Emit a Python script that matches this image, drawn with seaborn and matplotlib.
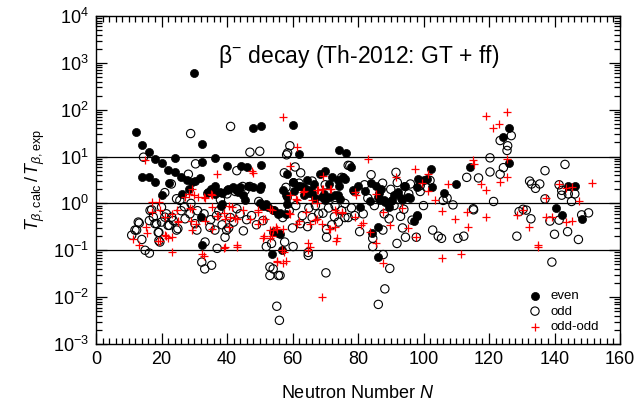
import numpy as np
import pandas as pd
import matplotlib
matplotlib.use("Agg")
import matplotlib.pyplot as plt
import matplotlib.ticker as mticker
import seaborn as sns

# ========================= Data =========================
even_n = [12.2, 14.1, 16.2, 18, 20, 24.2, 22, 14, 16.3, 18.1, 24, 25.9, 27.7, 30.2, 22.2,
          30, 32.3, 32.3, 36.2, 40.1, 44.2, 47.8, 50.3, 50.3, 46, 58.2, 31.8, 20, 26.2, 33.8,
          36.2, 38.4, 39.9, 41.9, 43.5, 45, 48, 50.3, 50, 52, 54.1, 56.2, 38.4, 32.3, 56.2,
          53.6, 56.7, 58.2, 29.2, 34.3, 36.3, 37.9, 40.4, 42.4, 44, 38.2, 32, 46.5, 50, 60.3,
          61.8, 63.3, 58.2, 51, 52.6, 54.4, 55.7, 54.1, 55.7, 60, 62, 74.3, 76.3, 78, 60.2,
          62.3, 64, 65, 68.4, 70, 72, 74.3, 75.5, 58, 60.5, 63.6, 66, 67, 69, 71.6, 74, 80,
          84, 85.5, 86.5, 80.6, 83.6, 86, 88, 89.5, 90, 92.3, 94, 95.4, 96, 98, 97, 98, 100,
          102.2, 102.5, 110, 114.2, 84.2, 86, 124.2, 126.2, 126.2, 140.5, 142.2, 144.2, 146.2,
          148.3, 58, 64.3, 74, 76, 70, 73, 74.6, 66.5, 71, 94.4, 98.4, 86.7, 88.2, 90.3, 93.3,
          97.9, 86.2, 106.4, 101, 28.5, 35, 45.5, 57, 65.5, 69.5, 78.5, 82, 87, 91, 93]
even_val = [34, 18, 12.4, 8.7, 7.2, 9.4, 5.2, 3.6, 3.6, 2.9, 4.6, 3.6, 3.1, 3.0, 2.7,
            610, 18.8, 7.6, 9.4, 6.2, 6.2, 40, 44, 6.5, 5.9, 4.3, 3.5, 1.5, 1.6, 1.66,
            2.4, 1.66, 1.96, 2.2, 1.74, 1.5, 2.2, 2.3, 1.0, 0.95, 0.71, 0.61, 0.95, 0.127, 0.225,
            0.085, 0.1, 0.95, 2.85, 1.74, 1.6, 1.74, 2.06, 2.06, 2.2, 0.9, 0.51, 2.3, 2.06, 2.85,
            2.4, 2.2, 1.36, 0.9, 0.83, 0.71, 0.6, 0.24, 0.23, 48, 11.5, 13.5, 11.8, 5.9, 2.8,
            2.3, 2.0, 1.7, 4.3, 5.0, 3.6, 2.3, 3.6, 1.5, 1.8, 1.5, 1.7, 1.3, 1.4, 1.35, 1.5, 2.4,
            2.7, 2.3, 1.7, 0.85, 1.1, 1.4, 1.2, 0.85, 1.1, 1.74, 2.3, 1.4, 1.3, 0.58, 0.43, 2.2, 3.2,
            5.5, 2.2, 2.6, 5.9, 0.23, 0.072, 26, 40, 7.2, 0.8, 0.56, 2.4, 2.4,
            0.47, 0.6, 3.1, 3.1, 3.3, 1.16, 1.48, 1.26, 2.6, 2.6, 2.4, 3.4, 1.16, 1.07, 1.16, 1.2,
            0.55, 0.31, 1.66, 3.4, 2.0, 2.0, 1.2, 1.9, 1.9, 1.6, 1.9, 1.8, 2.0, 1.5, 1.3]

odd_n = [10.9, 12.4, 13.2, 14, 15, 16.3, 14.5, 16.3, 17, 18, 19.2, 19.2, 20, 21.5, 22.4,
         23.1, 24.6, 25.6, 27.2, 28.2, 28.9, 28.7, 30.2, 30.4, 30.8, 32.3, 33.2, 35.3, 33.3,
         34.8, 36.3, 37, 36.8, 39.4, 39.9, 40.5, 41.1, 43, 45, 47, 50, 49.7, 51, 52, 53.1, 55.2,
         56, 56.2, 53.6, 43, 44.8, 47, 21, 23, 12.9, 11.9, 16.5, 17.5, 18.5, 21, 22, 23.6, 25,
         19, 19.5, 20, 24.6, 59.2, 58.5, 60.8, 62.5, 57.5, 70.4, 70.2, 75, 77, 77.5, 84, 91.6,
         87.5, 90, 95.5, 99, 102, 101, 106, 107.2, 109, 113.2, 115.3, 102.8, 104.5, 105.5, 110.5,
         112.3, 91.9, 94.5, 97.8, 87.7, 89.7, 88.2, 86.2, 84.5, 84.5, 80.5, 81.6, 79, 77, 72.8,
         70.4, 69.3, 66, 64.6, 64.8, 64.8, 60.2, 57.6, 60, 62.4, 87.6, 89.5, 93.6, 96.5, 93,
         115.2, 116.8, 120.3, 120.3, 121.4, 123.4, 124.4, 123.4, 125.7, 125.5, 126.8, 128.5,
         129.2, 130.4, 131.4, 132.4, 133, 134.2, 135.5, 132.8, 137.1, 137.1, 138.6, 139.2, 140,
         141.4, 141.4, 142.2, 142.2, 143.2, 144, 144.2, 145.2, 146.2, 147.3, 148.3, 150.4, 53.1,
         55.7, 54.1, 58.2, 33, 35, 37.5, 38.5, 41, 42, 44, 46, 47.5, 49, 38, 40, 42.5, 45.5, 27,
         29, 31, 26, 57, 59, 61, 63, 65, 67, 68, 71, 73, 75, 76, 78, 79, 82, 83, 85, 88, 91, 92,
         94, 96, 99, 100, 58, 62, 66, 70, 72, 74, 76]
odd_val = [0.21, 0.27, 0.38, 0.17, 0.1, 0.087, 9.7, 0.43, 0.73, 0.37, 0.24, 0.16, 0.4, 0.6, 0.34,
           0.51, 0.27, 1.16, 0.47, 4.2, 31, 0.6, 0.37, 7.0, 0.27, 0.056, 0.04, 0.048, 0.15,
           0.31, 0.27, 0.11, 0.55, 0.19, 0.27, 0.3, 44, 0.77, 0.26, 12.4, 13, 1.1, 0.43, 0.12, 0.044, 0.0064,
           0.0032, 0.029, 0.14, 5.0, 2.3, 2.3, 1.7, 2.6, 0.4, 0.27, 0.71, 0.51, 0.37, 0.51, 0.34, 0.43, 0.29,
           0.24, 0.15, 0.83, 1.26, 17, 12, 6, 4.5, 4.5, 0.19, 0.033, 3.6, 6.5, 6.4, 4.1, 4.6,
           2.7, 2.0, 1.6, 2.4, 3.1, 2.2, 1.16, 1.3, 0.93, 3.6, 0.73, 0.27, 0.2, 0.18, 0.18,
           0.2, 0.14, 0.19, 0.19, 0.081, 0.041, 0.015, 0.007, 0.18, 0.12, 0.25, 0.6, 0.55, 0.5, 0.52,
           0.28, 0.62, 0.5, 0.32, 0.078, 0.09, 0.12, 0.15, 0.3, 0.37, 0.27, 0.47, 0.3, 0.44, 0.53,
           0.77, 3.5, 9.4, 4.7, 1.1, 22, 5.8, 4.2, 17, 13.5, 28, 0.2,
           0.67, 0.75, 0.72, 3.0, 2.6, 2.1, 2.6, 0.47, 5.0, 1.25, 0.42, 0.056, 0.22,
           2.5, 0.44, 1.9, 1.5, 6.8, 0.25, 1.6, 1.1, 1.6, 0.17, 0.57, 0.63, 0.029,
           0.029, 0.04, 10.9, 0.6, 0.45, 0.7, 0.35, 0.5, 0.4, 0.6, 0.45, 0.55, 0.35, 1.2, 1.6, 1.8, 1.9, 0.85,
           1.0, 0.7, 0.7, 0.5, 0.7, 0.9, 0.55, 0.8, 0.9, 0.6, 0.8, 0.9, 0.7, 1.0, 0.8, 1.8, 2.5, 1.3, 0.9, 0.6, 0.9, 2.8,
           0.75, 2.6, 1.8, 0.9, 2.2, 2.7, 3.0, 2.5, 0.35, 0.4, 0.5]

oo_n = [11.2, 13.2, 15, 15.3, 17, 19.2, 17, 21, 21.5, 22, 23.1, 19.5, 24.7, 25, 27.2, 28.5,
        28.8, 30, 33, 35.2, 36.8, 30.4, 32.4, 32.9, 37, 39, 40.7, 42.5, 40.7, 44.8, 47.5, 48,
        49.5, 51, 53.8, 54, 55, 51.3, 53.6, 55.3, 39, 43, 57.2, 58, 57.4, 61.3, 59.3, 63.6, 61,
        59, 64, 62, 66, 67.8, 69, 71.8, 67, 64.8, 64.8, 69, 71.6, 73.4, 73.6, 75, 79.5, 81.4,
        83.2, 83.6, 85.5, 85.5, 87.6, 87.5, 89.7, 91.6, 93.5, 95.3, 97.3, 97.6, 99.6, 101.5,
        101.5, 103.5, 105.5, 105.5, 107.5, 109.5, 111.5, 113.5, 115.2, 115.3, 113.2, 117.5, 119,
        121.2, 123.2, 125.5, 119, 119, 123.4, 125.5, 125.5, 128.4, 130.4, 132.2, 135, 135, 137.5,
        137.3, 139.3, 141.4, 143.4, 143.5, 145.2, 145.2, 147.4, 151.4, 15.5, 19.5, 23.1, 25.1,
        21, 23.1, 19, 29.2, 31.2, 33.3, 35.3, 29.2, 29, 35.3, 37.3, 39.4, 40.9, 43, 41.4, 33.3,
        35.3, 29.2, 39.4, 43.2, 63.3, 61.3, 59.2, 59.2, 61.3, 53.1, 49.6, 46.9, 49.6, 51.6, 53.1,
        55.2, 57.2, 51, 53.1, 56.7, 55.2, 57.2, 69.4, 67.4, 69.4, 71.5, 67.4, 73, 75, 67.4,
        65.3, 69, 71, 73, 73.2, 65.3, 79.1, 79.1, 81]
oo_val = [0.17, 0.13, 8.3, 0.31, 1.07, 1.07, 0.67, 0.51, 0.2, 0.18, 0.09, 0.16, 0.73, 0.4, 1.36, 1.6,
          0.8, 1.5, 1.4, 1.6, 4.3, 0.37, 0.085, 0.075, 0.55, 0.63, 0.87, 0.5, 0.31, 0.72, 5.0, 4.5,
          0.67, 0.47, 0.73, 0.27, 0.32, 0.2, 0.2, 0.058, 0.11, 0.12, 69, 0.06, 0.09, 16, 6.2, 1.8, 1.25,
          0.62, 0.66, 0.42, 1.2, 1.9, 2.0, 2.0, 0.45, 0.14, 0.1, 0.01, 0.28, 0.67, 0.18, 0.63, 1.5, 0.38,
          9, 0.25, 1.6, 0.14, 0.054, 0.67, 0.34, 3.6, 0.78, 0.3, 5.3, 0.19, 2.7, 4.3,
          1.8, 1.2, 0.7, 0.068, 2.6, 0.47, 0.085, 0.31, 8.3, 7.0, 0.67, 2.6, 75,
          40, 50, 90, 1.9, 0.51, 2.8, 3.7, 9, 0.58, 0.74, 0.31, 0.13, 0.12, 1.3,
          0.51, 0.51, 2.6, 0.41, 2.1, 2.2, 0.42, 1.1, 2.7, 0.23, 0.71, 0.6, 0.43,
          0.21, 0.19, 0.16, 2.0, 1.4, 1.3, 1.55, 0.77, 0.43, 0.83, 0.55, 0.47, 0.51, 0.47, 0.83, 0.43,
          0.29, 0.27, 0.12, 0.127, 1.74, 1.16, 1.48, 0.6, 0.37, 0.77, 0.71, 0.47, 0.37, 0.47, 0.27,
          0.29, 0.29, 0.18, 0.18, 0.1, 0.056, 0.054, 3.9, 1.96, 2.06, 2.06, 1.0, 0.71, 0.65, 0.47,
          0.37, 0.37, 0.29, 0.31, 0.16, 0.12, 1.74, 0.51, 0.34]

x_ticks = [0, 20, 40, 60, 80, 100, 120, 140, 160]
ref_lines = [0.1, 1, 10]

# ========================= Style =========================
sns.set_style("ticks", {"text.color": "black", "axes.labelcolor": "black",
                        "xtick.color": "black", "ytick.color": "black",
                        "axes.edgecolor": "black"})
plt.rcParams["font.family"] = ["Liberation Sans", "DejaVu Sans"]
plt.rcParams["mathtext.fontset"] = "custom"
plt.rcParams["mathtext.rm"] = "Liberation Sans"
plt.rcParams["mathtext.it"] = "Liberation Sans:italic"
plt.rcParams["mathtext.bf"] = "Liberation Sans:bold"

fig = plt.figure(figsize=(6.41, 4.16), dpi=100)
ax = fig.add_axes([96 / 641, 1 - 344 / 416, 524 / 641, 328 / 416])

for y in ref_lines:
    ax.axhline(y, color="black", lw=0.9, zorder=1)

df_even = pd.DataFrame({"N": even_n, "ratio": even_val})
df_odd = pd.DataFrame({"N": odd_n, "ratio": odd_val})
df_oo = pd.DataFrame({"N": oo_n, "ratio": oo_val})

sns.scatterplot(data=df_odd, x="N", y="ratio", ax=ax, marker="o", s=36,
                facecolor="none", edgecolor="black", linewidth=0.8, label="odd", zorder=3)
sns.scatterplot(data=df_even, x="N", y="ratio", ax=ax, marker="o", s=34,
                color="black", edgecolor="black", linewidth=0.5, label="even", zorder=4)
sns.scatterplot(data=df_oo, x="N", y="ratio", ax=ax, marker="+", s=36,
                color="red", linewidth=0.9, label="odd-odd", zorder=5)

ax.set_yscale("log")
ax.set_xlim(0, 160)
ax.set_ylim(1e-3, 1e4)
ax.set_xticks(x_ticks)
ax.xaxis.set_minor_locator(mticker.MultipleLocator(2))
ax.yaxis.set_major_locator(mticker.LogLocator(base=10, numticks=10))
ax.yaxis.set_minor_locator(mticker.LogLocator(base=10, subs=np.arange(2, 10), numticks=20))
ax.yaxis.set_minor_formatter(mticker.NullFormatter())

ax.tick_params(which="both", direction="in", top=True, right=True, labelsize=13, width=0.9,
               colors="black")
ax.tick_params(which="major", length=8, pad=5)
ax.tick_params(which="minor", length=4)
for sp in ax.spines.values():
    sp.set_linewidth(1.0)
    sp.set_color("black")

ax.set_xlabel(r"Neutron Number $\mathit{N}$", fontsize=13, labelpad=12)
ax.set_ylabel(r"$T_{\beta,\mathrm{calc}}\,/\,T_{\beta,\mathrm{exp}}$", fontsize=13, labelpad=4)
ax.text(0.502, 0.875, r"β$^{-}$ decay (Th-2012: GT + ff)", transform=ax.transAxes,
        ha="center", va="center", fontsize=16.5)

# legend in even, odd, odd-odd order
handles, labels = ax.get_legend_handles_labels()
order = [labels.index(k) for k in ["even", "odd", "odd-odd"]]
ax.legend([handles[i] for i in order], ["even", "odd", "odd-odd"], loc="lower left",
          bbox_to_anchor=(0.805, 0.005), frameon=False, fontsize=9.5, handletextpad=0.6,
          labelspacing=0.25, borderpad=0.2, handlelength=1.2)

plt.savefig("out.png", dpi=100)
plt.close()
